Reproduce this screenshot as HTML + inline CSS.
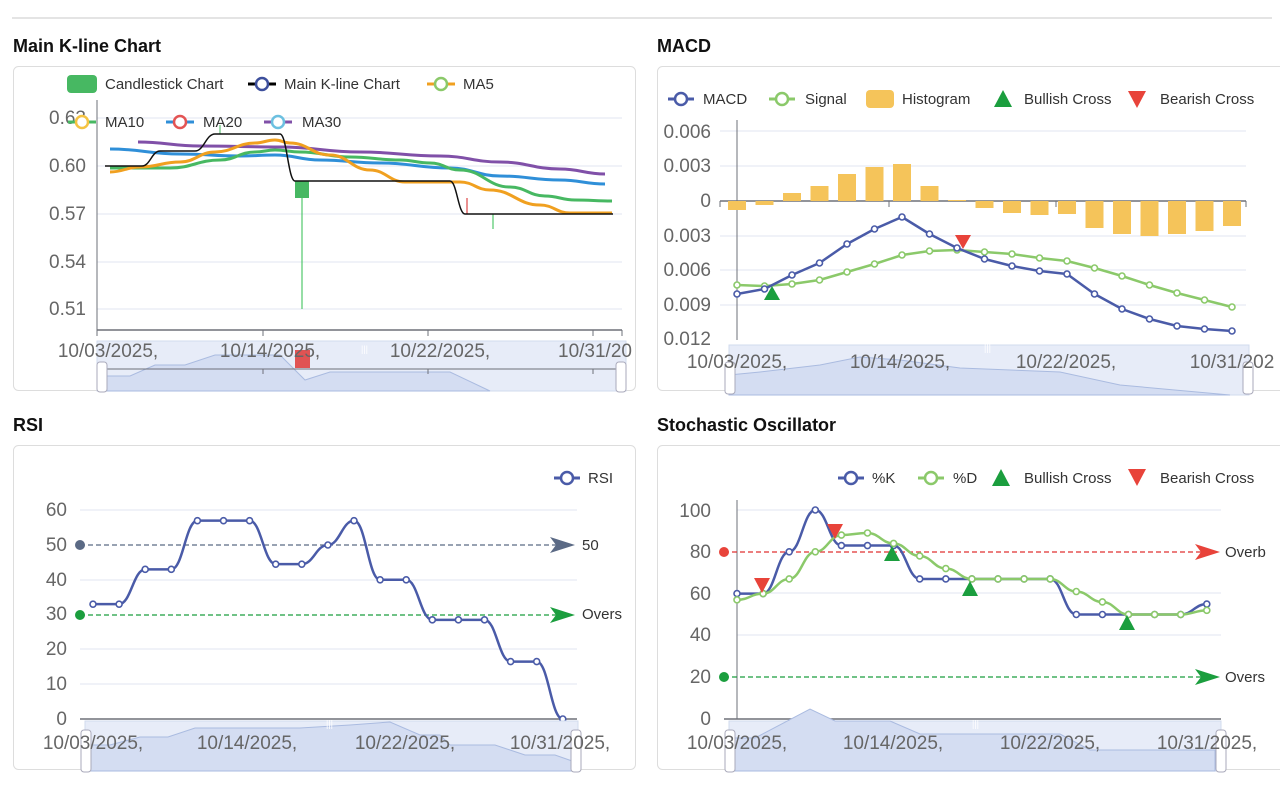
<!DOCTYPE html>
<html><head><meta charset="utf-8"><style>
html,body{margin:0;padding:0;background:#fff;width:1280px;height:800px;overflow:hidden}
svg{display:block}
text{font-family:"Liberation Sans",sans-serif}
.t{font-size:18px;font-weight:bold;fill:#111}
.ax{font-size:19px;fill:#666}
.lg{font-size:15px;fill:#333}
.g{stroke:#e0e6f1;stroke-width:1}
</style></head><body>
<svg id="s" width="1280" height="800" viewBox="0 0 1280 800">
<line x1="12" y1="18" x2="1272" y2="18" stroke="#e4e4e4" stroke-width="2"/>
<text class="t" x="13" y="52">Main K-line Chart</text>
<text class="t" x="657" y="52">MACD</text>
<text class="t" x="13" y="431">RSI</text>
<text class="t" x="657" y="431">Stochastic Oscillator</text>
<rect x="13.5" y="66.5" width="622" height="324" rx="5" fill="#fff" stroke="#ddd"/>
<rect x="657.5" y="66.5" width="640" height="324" rx="5" fill="#fff" stroke="#ddd"/>
<rect x="13.5" y="445.5" width="622" height="324" rx="5" fill="#fff" stroke="#ddd"/>
<rect x="657.5" y="445.5" width="640" height="324" rx="5" fill="#fff" stroke="#ddd"/>

<!-- MAIN -->
<g>
<line class="g" x1="97" y1="118" x2="622" y2="118"/>
<line class="g" x1="97" y1="166" x2="622" y2="166"/>
<line class="g" x1="97" y1="214" x2="622" y2="214"/>
<line class="g" x1="97" y1="262" x2="622" y2="262"/>
<line class="g" x1="97" y1="309" x2="622" y2="309"/>
<line x1="97" y1="100" x2="97" y2="330" stroke="#6e7079"/>
<line x1="97" y1="330" x2="622" y2="330" stroke="#6e7079" stroke-width="1.5"/>
<g stroke="#6e7079"><line x1="97" y1="330" x2="97" y2="336"/><line x1="263" y1="330" x2="263" y2="336"/><line x1="428" y1="330" x2="428" y2="336"/><line x1="593" y1="330" x2="593" y2="336"/><line x1="622" y1="330" x2="622" y2="336"/></g>
<g class="ax" text-anchor="end"><text x="86" y="124">0.63</text><text x="86" y="172">0.60</text><text x="86" y="220">0.57</text><text x="86" y="268">0.54</text><text x="86" y="315">0.51</text></g>
<line x1="220" y1="125" x2="220" y2="134" stroke="#3fb45a"/>
<line x1="302" y1="181" x2="302" y2="309" stroke="#2ebd4e"/>
<rect x="295" y="181" width="14" height="17" fill="#47b862"/>
<line x1="467" y1="198" x2="467" y2="214" stroke="#d62020"/>
<line x1="493" y1="214" x2="493" y2="229" stroke="#2ebd4e"/>
<g id="mainlines"></g>
<rect x="97" y="341" width="529" height="50" fill="#e7ecf8" stroke="#d2dbee"/>
<path d="M107 376 L130 376 L155 365 L185 365 L215 355 L280 355 L305 380 L330 372 L450 372 L490 391 L107 391Z" fill="#d4ddf2" stroke="#aabbe0"/>
<line x1="107" y1="369" x2="617" y2="369" stroke="#6e7079"/>
<g stroke="#6e7079"><line x1="263" y1="369" x2="263" y2="374"/><line x1="428" y1="369" x2="428" y2="374"/><line x1="593" y1="369" x2="593" y2="374"/></g>
<rect x="295" y="350" width="15" height="18" fill="#e05353"/>
<rect x="97" y="362" width="10" height="30" rx="3" fill="#fff" stroke="#aab"/>
<rect x="616" y="362" width="10" height="30" rx="3" fill="#fff" stroke="#aab"/>
<text x="361" y="352" font-size="9" fill="#fff">|||</text>
<g class="ax" text-anchor="middle"><text x="108" y="357">10/03/2025,</text><text x="270" y="357">10/14/2025,</text><text x="440" y="357">10/22/2025,</text><text x="595" y="357">10/31/20</text></g>
<rect x="67" y="75" width="30" height="18" rx="4" fill="#47b862"/>
<text class="lg" x="105" y="89">Candlestick Chart</text>
<line x1="248" y1="84" x2="276" y2="84" stroke="#000" stroke-width="3"/><circle cx="262" cy="84" r="6" fill="#fff" stroke="#3d4f9c" stroke-width="2.5"/>
<text class="lg" x="284" y="89">Main K-line Chart</text>
<line x1="427" y1="84" x2="455" y2="84" stroke="#f0a020" stroke-width="3"/><circle cx="441" cy="84" r="6" fill="#fff" stroke="#8bc96a" stroke-width="2.5"/>
<text class="lg" x="463" y="89">MA5</text>
<line x1="68" y1="122" x2="96" y2="122" stroke="#47b862" stroke-width="3"/><circle cx="82" cy="122" r="6" fill="#fff" stroke="#f5c342" stroke-width="2.5"/>
<text class="lg" x="105" y="127">MA10</text>
<line x1="166" y1="122" x2="194" y2="122" stroke="#2f8fd8" stroke-width="3"/><circle cx="180" cy="122" r="6" fill="#fff" stroke="#e35454" stroke-width="2.5"/>
<text class="lg" x="203" y="127">MA20</text>
<line x1="264" y1="122" x2="292" y2="122" stroke="#8050a8" stroke-width="3"/><circle cx="278" cy="122" r="6" fill="#fff" stroke="#6cc0e0" stroke-width="2.5"/>
<text class="lg" x="302" y="127">MA30</text>
</g>

<!-- MACD -->
<g>
<g id="macdgrid"></g>
<line x1="737" y1="120" x2="737" y2="340" stroke="#6e7079"/>
<line x1="720" y1="201" x2="1246" y2="201" stroke="#6e7079" stroke-width="1.5"/>
<g stroke="#6e7079"><line x1="720" y1="201" x2="720" y2="207"/><line x1="889" y1="201" x2="889" y2="207"/><line x1="1056" y1="201" x2="1056" y2="207"/><line x1="1246" y1="201" x2="1246" y2="207"/></g>
<g class="ax" text-anchor="end"><text x="711" y="138">0.006</text><text x="711" y="172">0.003</text><text x="711" y="207">0</text><text x="711" y="242">0.003</text><text x="711" y="276">0.006</text><text x="711" y="311">0.009</text><text x="711" y="345">0.012</text></g>
<g id="macd"></g>
<polygon points="764,300 780,300 772,286" fill="#1b9e3e"/>
<polygon points="955,235 971,235 963,249" fill="#e8433a"/>
<rect x="729" y="345" width="520" height="50" fill="#e7ecf8" stroke="#d2dbee"/>
<path d="M729 375 L760 372 L820 365 L860 357 L900 360 L960 368 L1060 372 L1120 385 L1230 395 L729 395Z" fill="#d4ddf2" stroke="#aabbe0"/>
<rect x="725" y="362" width="10" height="32" rx="3" fill="#fff" stroke="#aab"/>
<rect x="1243" y="362" width="10" height="32" rx="3" fill="#fff" stroke="#aab"/>
<text x="984" y="351" font-size="9" fill="#fff">|||</text>
<g class="ax" text-anchor="middle"><text x="737" y="368">10/03/2025,</text><text x="900" y="368">10/14/2025,</text><text x="1066" y="368">10/22/2025,</text><text x="1232" y="368">10/31/202</text></g>
<line x1="668" y1="99" x2="694" y2="99" stroke="#4a5ba8" stroke-width="3"/><circle cx="681" cy="99" r="6" fill="#fff" stroke="#4a5ba8" stroke-width="2.5"/>
<text class="lg" x="703" y="104">MACD</text>
<line x1="769" y1="99" x2="795" y2="99" stroke="#8bc96a" stroke-width="3"/><circle cx="782" cy="99" r="6" fill="#fff" stroke="#8bc96a" stroke-width="2.5"/>
<text class="lg" x="805" y="104">Signal</text>
<rect x="866" y="90" width="28" height="18" rx="4" fill="#f5c45a"/>
<text class="lg" x="902" y="104">Histogram</text>
<polygon points="994,107 1012,107 1003,90" fill="#1b9e3e"/>
<text class="lg" x="1024" y="104">Bullish Cross</text>
<polygon points="1128,91 1146,91 1137,108" fill="#e8433a"/>
<text class="lg" x="1160" y="104">Bearish Cross</text>
</g>

<!-- RSI -->
<g>
<g id="rsigrid"></g>
<line x1="80" y1="719" x2="577" y2="719" stroke="#6e7079" stroke-width="1.5"/>
<g class="ax" text-anchor="end"><text x="67" y="516">60</text><text x="67" y="551">50</text><text x="67" y="586">40</text><text x="67" y="620">30</text><text x="67" y="655">20</text><text x="67" y="690">10</text><text x="67" y="725">0</text></g>
<line x1="80" y1="545" x2="565" y2="545" stroke="#5b6a85" stroke-width="1.3" stroke-dasharray="5,3"/>
<circle cx="80" cy="545" r="5" fill="#5b6a85"/><polygon points="550,537 575,545 550,553 556,545" fill="#5b6a85"/>
<text class="lg" x="582" y="550" fill="#222">50</text>
<line x1="80" y1="615" x2="565" y2="615" stroke="#1b9e3e" stroke-width="1.3" stroke-dasharray="5,3"/>
<circle cx="80" cy="615" r="5" fill="#1b9e3e"/><polygon points="550,607 575,615 550,623 556,615" fill="#1b9e3e"/>
<text class="lg" x="582" y="619" fill="#222">Overs</text>
<g id="rsi"></g>
<rect x="85" y="721" width="493" height="50" fill="#e7ecf8" stroke="#d2dbee"/>
<path d="M90 745 L110 745 L140 737 L168 737 L195 728 L300 728 L350 725 L390 722 L420 735 L440 735 L450 745 L495 745 L525 755 L555 755 L575 762 L575 771 L90 771Z" fill="#d4ddf2" stroke="#aabbe0"/>
<rect x="81" y="730" width="10" height="42" rx="3" fill="#fff" stroke="#aab"/>
<rect x="571" y="730" width="10" height="42" rx="3" fill="#fff" stroke="#aab"/>
<text x="326" y="727" font-size="9" fill="#fff">|||</text>
<g class="ax" text-anchor="middle"><text x="93" y="749">10/03/2025,</text><text x="247" y="749">10/14/2025,</text><text x="405" y="749">10/22/2025,</text><text x="560" y="749">10/31/2025,</text></g>
<line x1="554" y1="478" x2="580" y2="478" stroke="#4a5ba8" stroke-width="3"/><circle cx="567" cy="478" r="6" fill="#fff" stroke="#4a5ba8" stroke-width="2.5"/>
<text class="lg" x="588" y="483">RSI</text>
</g>

<!-- STOCH -->
<g>
<g id="stgrid"></g>
<line x1="737" y1="500" x2="737" y2="719" stroke="#6e7079"/>
<line x1="724" y1="719" x2="1221" y2="719" stroke="#6e7079" stroke-width="1.5"/>
<g class="ax" text-anchor="end"><text x="711" y="517">100</text><text x="711" y="558">80</text><text x="711" y="600">60</text><text x="711" y="641">40</text><text x="711" y="683">20</text><text x="711" y="725">0</text></g>
<line x1="724" y1="552" x2="1210" y2="552" stroke="#e03030" stroke-width="1.3" stroke-dasharray="5,3"/>
<circle cx="724" cy="552" r="5" fill="#e8433a"/><polygon points="1195,544 1220,552 1195,560 1201,552" fill="#e8433a"/>
<text class="lg" x="1225" y="557" fill="#222">Overb</text>
<line x1="724" y1="677" x2="1210" y2="677" stroke="#1b9e3e" stroke-width="1.3" stroke-dasharray="5,3"/>
<circle cx="724" cy="677" r="5" fill="#1b9e3e"/><polygon points="1195,669 1220,677 1195,685 1201,677" fill="#1b9e3e"/>
<text class="lg" x="1225" y="682" fill="#222">Overs</text>
<g id="st"></g>
<g fill="#e8433a"><polygon points="754,578 770,578 762,593"/><polygon points="827,524 843,524 835,539"/></g>
<g fill="#1b9e3e"><polygon points="884,561 900,561 892,546"/><polygon points="962,596 978,596 970,581"/><polygon points="1119,630 1135,630 1127,615"/></g>
<rect x="729" y="721" width="492" height="50" fill="#e7ecf8" stroke="#d2dbee"/>
<path d="M735 738 L755 738 L810 709 L835 721 L890 721 L920 734 L1060 734 L1090 750 L1215 750 L1215 771 L735 771Z" fill="#d4ddf2" stroke="#aabbe0"/>
<rect x="725" y="730" width="10" height="42" rx="3" fill="#fff" stroke="#aab"/>
<rect x="1216" y="730" width="10" height="42" rx="3" fill="#fff" stroke="#aab"/>
<text x="972" y="727" font-size="9" fill="#fff">|||</text>
<g class="ax" text-anchor="middle"><text x="737" y="749">10/03/2025,</text><text x="893" y="749">10/14/2025,</text><text x="1050" y="749">10/22/2025,</text><text x="1207" y="749">10/31/2025,</text></g>
<line x1="838" y1="478" x2="864" y2="478" stroke="#4a5ba8" stroke-width="3"/><circle cx="851" cy="478" r="6" fill="#fff" stroke="#4a5ba8" stroke-width="2.5"/>
<text class="lg" x="872" y="483">%K</text>
<line x1="918" y1="478" x2="944" y2="478" stroke="#8bc96a" stroke-width="3"/><circle cx="931" cy="478" r="6" fill="#fff" stroke="#8bc96a" stroke-width="2.5"/>
<text class="lg" x="953" y="483">%D</text>
<polygon points="992,486 1010,486 1001,469" fill="#1b9e3e"/>
<text class="lg" x="1024" y="483">Bullish Cross</text>
<polygon points="1128,469 1146,469 1137,486" fill="#e8433a"/>
<text class="lg" x="1160" y="483">Bearish Cross</text>
</g>
</svg>
<script>
var NS="http://www.w3.org/2000/svg";
function el(p,t,a){var e=document.createElementNS(NS,t);for(var k in a)e.setAttribute(k,a[k]);document.getElementById(p).appendChild(e);return e;}
function sm(P){var d="M"+P[0][0]+" "+P[0][1];for(var i=1;i<P.length;i++){var a=P[i-1],b=P[i],dx=(b[0]-a[0])*0.45;d+=" C"+(a[0]+dx)+" "+a[1]+" "+(b[0]-dx)+" "+b[1]+" "+b[0]+" "+b[1];}return d;}
function line(p,P,c,w,dots){el(p,"path",{d:sm(P),fill:"none",stroke:c,"stroke-width":w});if(dots)P.forEach(function(q){el(p,"circle",{cx:q[0],cy:q[1],r:3,fill:"#fff",stroke:c,"stroke-width":1.6});});}
line("mainlines",[[138,142],[200,146],[280,147],[360,152],[440,156],[500,162],[560,169],[605,174]],"#8050a8",3);
line("mainlines",[[110,149],[180,154],[240,156],[275,155],[320,160],[380,163],[450,168],[500,176],[560,180],[605,184]],"#2f8fd8",3);
line("mainlines",[[110,168],[170,168],[220,160],[255,152],[275,150],[300,152],[350,157],[400,160],[430,163],[460,170],[510,187],[545,196],[575,200],[612,201]],"#47b862",3);
line("mainlines",[[110,172],[140,167],[180,162],[215,152],[255,143],[275,140],[290,143],[330,155],[370,170],[405,182],[440,182],[460,182],[490,190],[540,205],[570,213],[612,213]],"#f0a020",3);
line("mainlines",[[105,166],[142,166],[160,151],[195,151],[215,134],[280,134],[295,181],[405,181],[450,181],[465,214],[613,214]],"#111",1.5);
[131,166,236,270,305].forEach(function(y){el("macdgrid","line",{x1:720,y1:y,x2:1246,y2:y,class:"g"});});
var H=[210,205,193,186,174,167,164,186,200,208,213,215,214,228,234,236,234,231,226];
var X=[];for(var i=0;i<19;i++)X.push(737+i*27.5);
H.forEach(function(y,i){var t=Math.min(y,201),h=Math.abs(y-201);el("macd","rect",{x:X[i]-9,y:t,width:18,height:Math.max(h,1),fill:"#f5c45a"});});
var M=[294,289,275,263,244,229,217,234,248,259,266,271,274,294,309,319,326,329,331];
var S=[285,286,284,280,272,264,255,251,250,252,254,258,261,268,276,285,293,300,307];
function pl(Y,X){return Y.map(function(y,i){return[X[i],y]});}
function lin(p,P,c,w){el(p,"polyline",{points:P.map(function(q){return q.join(",")}).join(" "),fill:"none",stroke:c,"stroke-width":w,"stroke-linejoin":"round"});P.forEach(function(q){el(p,"circle",{cx:q[0],cy:q[1],r:3,fill:"#fff",stroke:c,"stroke-width":1.6});});}
lin("macd",pl(S,X),"#8bc96a",2.5);
lin("macd",pl(M,X),"#4a5ba8",2.5);
[510,580,649,684].forEach(function(y){el("rsigrid","line",{x1:80,y1:y,x2:577,y2:y,class:"g"});});
var RX=[];for(var i=0;i<19;i++)RX.push(93+i*26.1);
var R=[33,33,43,43,57,57,57,44.5,44.5,50,57,40,40,28.5,28.5,28.5,16.5,16.5,0];
line("rsi",R.map(function(v,i){return[RX[i],719-v*3.48]}),"#4a5ba8",2.5,true);
[510,593,635].forEach(function(y){el("stgrid","line",{x1:737,y1:y,x2:1221,y2:y,class:"g"});});
var SX=[];for(var i=0;i<19;i++)SX.push(737+i*26.1);
var K=[60,60,80,100,83,83,83,67,67,67,67,67,67,50,50,50,50,50,55];
var D=[57,60,67,80,88,89,84,78,72,67,67,67,67,61,56,50,50,50,52];
line("st",K.map(function(v,i){return[SX[i],719-v*2.09]}),"#4a5ba8",2.5,true);
line("st",D.map(function(v,i){return[SX[i],719-v*2.09]}),"#8bc96a",2.5,true);
</script>
</body></html>
